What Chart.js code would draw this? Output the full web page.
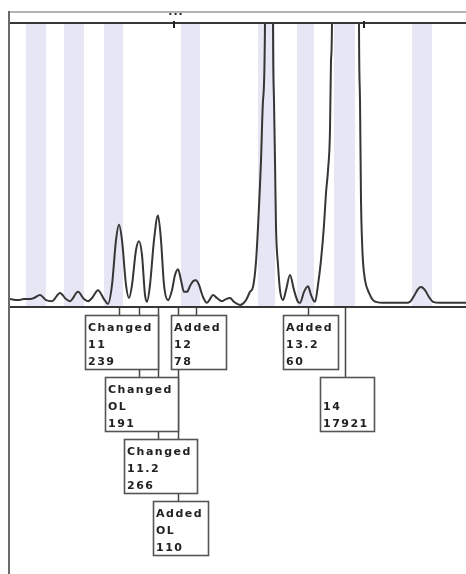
<!DOCTYPE html>
<html>
<head>
<meta charset="utf-8">
<script src="https://cdn.jsdelivr.net/npm/chart.js@4/dist/chart.umd.min.js"></script>
<style>
  html, body { margin: 0; padding: 0; background: #fff; }
  canvas { display: block; }
</style>
</head>
<body>
<canvas id="c" width="466" height="574"></canvas>
<script>
// Electropherogram trace samples: scan position and signal (RFU)
const traceX = [0, 8, 14, 20, 24, 30, 36, 42, 50, 56, 60, 68, 74, 78, 82, 88, 94, 98, 102, 106,
  112, 116, 119, 122, 126, 132, 135, 137, 140, 144, 151, 154, 158, 162, 165, 171, 174, 177,
  180, 183, 189, 193, 197, 200, 203, 207, 212, 216, 220, 224, 230, 236, 240, 243, 246, 248,
  250, 251, 253, 255, 259, 263, 264, 265, 266, 268, 270, 273, 276, 280, 284, 288, 290, 294,
  301, 305, 308, 311, 314, 316, 318, 320, 321, 322, 349, 350, 351, 352, 353, 355, 359, 363,
  366, 373, 385, 395, 400, 404, 408, 411, 415, 419, 423, 430, 445, 456];
const traceY = [23, 20, 23, 23, 26, 35, 20, 17, 41, 23, 17, 44, 23, 17, 26, 49, 23, 9, 64, 194,
  194, 64, 26, 64, 165, 151, 35, 15, 64, 194, 194, 64, 20, 49, 93, 78, 44, 44,
  61, 75, 64, 29, 12, 23, 35, 26, 17, 23, 26, 15, 6, 20, 44, 58, 131, 232,
  354, 426, 600, 824, 6000, 824, 600, 426, 232, 122, 49, 20, 49, 93, 49, 15, 12, 44,
  35, 15, 64, 136, 238, 331, 397, 513, 716, 824, 824, 600, 310, 194, 131, 78, 41, 20,
  15, 12, 12, 12, 15, 32, 52, 58, 49, 29, 15, 12, 12, 12];

// Allele bins (scan position ranges)
const binStart = [16, 54, 94, 171, 248, 287, 324, 402];
const binEnd   = [36, 74, 113, 190, 265, 304, 345, 422];

// Called peaks
const peakX      = [109, 129, 148, 168, 186, 298, 335];
const peakStatus = ['Changed', 'Changed', 'Changed', 'Added', 'Added', 'Added', ''];
const peakAllele = ['11', 'OL', '11.2', 'OL', '12', '13.2', '14'];
const peakHeight = [239, 191, 266, 110, 78, 60, 17921];

// Header markers
const markerX    = [164, 354];
const markerText = ['...', ''];

const points = traceX.map((x, i) => ({ x: x, y: traceY[i] }))
  .concat(peakX.map((x, i) => ({ x: x, y: peakHeight[i] })))
  .sort((a, b) => a.x - b.x);

const LINE_DARK = '#363636';

const decor = {
  id: 'decor',
  beforeDatasetsDraw(chart) {
    const { ctx, chartArea: a, scales: { x } } = chart;
    ctx.save();
    ctx.fillStyle = '#e6e6f4';
    binStart.forEach((s, i) => {
      const x1 = x.getPixelForValue(s), x2 = x.getPixelForValue(binEnd[i]);
      ctx.fillRect(x1, a.top, x2 - x1, a.bottom - a.top);
    });
    ctx.restore();
  },
  afterDatasetsDraw(chart) {
    const { ctx, chartArea: a, scales: { x } } = chart;
    const W = chart.width, H = chart.height;
    ctx.save();
    // frame
    ctx.strokeStyle = '#9a9a9a';
    ctx.lineWidth = 1.5;
    ctx.beginPath(); ctx.moveTo(a.left, a.top - 11); ctx.lineTo(W, a.top - 11); ctx.stroke();
    ctx.strokeStyle = LINE_DARK;
    ctx.lineWidth = 2;
    ctx.beginPath(); ctx.moveTo(a.left, a.top); ctx.lineTo(W, a.top); ctx.stroke();
    ctx.beginPath(); ctx.moveTo(a.left, a.bottom); ctx.lineTo(W, a.bottom); ctx.stroke();
    ctx.strokeStyle = '#6a6a6a';
    ctx.beginPath(); ctx.moveTo(a.left - 1, a.top - 12); ctx.lineTo(a.left - 1, H); ctx.stroke();

    // header markers
    ctx.strokeStyle = '#222';
    ctx.fillStyle = '#222';
    ctx.lineWidth = 2;
    markerX.forEach((m, i) => {
      const px = x.getPixelForValue(m);
      ctx.beginPath(); ctx.moveTo(px, a.top - 2); ctx.lineTo(px, a.top + 5); ctx.stroke();
      if (markerText[i]) {
        ctx.font = 'bold 11px "DejaVu Sans"';
        ctx.textAlign = 'center';
        ctx.textBaseline = 'alphabetic';
        ctx.letterSpacing = '1px';
        ctx.fillText(markerText[i], px + 2, a.top - 8);
      }
    });

    // peak label boxes
    ctx.font = 'bold 11px "DejaVu Sans"';
    ctx.letterSpacing = '1.5px';
    ctx.textAlign = 'left';
    const rowGap = 62, boxH = 54, firstRow = a.bottom + 8;
    const rows = [];
    const boxes = peakX.map((v, i) => {
      const lines = [peakStatus[i], peakAllele[i], String(peakHeight[i])];
      const w = Math.round(Math.max(...lines.map(t => ctx.measureText(t).width)) + 8);
      const px = x.getPixelForValue(v);
      const left = Math.round(px - w / 2 + 2);
      let r = 0;
      while (rows[r] && rows[r].some(([l, rr]) => left < rr + 2 && left + w > l - 2)) r++;
      (rows[r] = rows[r] || []).push([left, left + w]);
      return { px, left, w, top: firstRow + r * rowGap, lines };
    });
    // connectors
    ctx.strokeStyle = '#444';
    ctx.lineWidth = 1.5;
    boxes.forEach(b => {
      ctx.beginPath(); ctx.moveTo(Math.round(b.px) + 0.5, a.bottom); ctx.lineTo(Math.round(b.px) + 0.5, b.top); ctx.stroke();
    });
    // boxes
    boxes.forEach(b => {
      ctx.fillStyle = '#fff';
      ctx.fillRect(b.left, b.top, b.w, boxH);
      ctx.strokeStyle = '#555';
      ctx.lineWidth = 1.6;
      ctx.strokeRect(b.left + 0.5, b.top + 0.5, b.w, boxH);
      ctx.fillStyle = '#222';
      b.lines.forEach((t, k) => {
        if (t) ctx.fillText(t, b.left + 3, b.top + 16 + k * 17);
      });
    });
    ctx.restore();
  }
};

new Chart(document.getElementById('c'), {
  type: 'line',
  data: {
    datasets: [{
      data: points,
      borderColor: LINE_DARK,
      borderWidth: 2,
      pointRadius: 0,
      fill: false,
      cubicInterpolationMode: 'monotone'
    }]
  },
  options: {
    responsive: false,
    animation: false,
    devicePixelRatio: 1,
    layout: { padding: { top: 23, left: 10, right: 0, bottom: 267 } },
    plugins: { legend: { display: false }, tooltip: { enabled: false } },
    scales: {
      x: { type: 'linear', min: 0, max: 456, display: false },
      y: { min: 0, max: 825, display: false }
    }
  },
  plugins: [decor]
});
</script>
</body>
</html>
